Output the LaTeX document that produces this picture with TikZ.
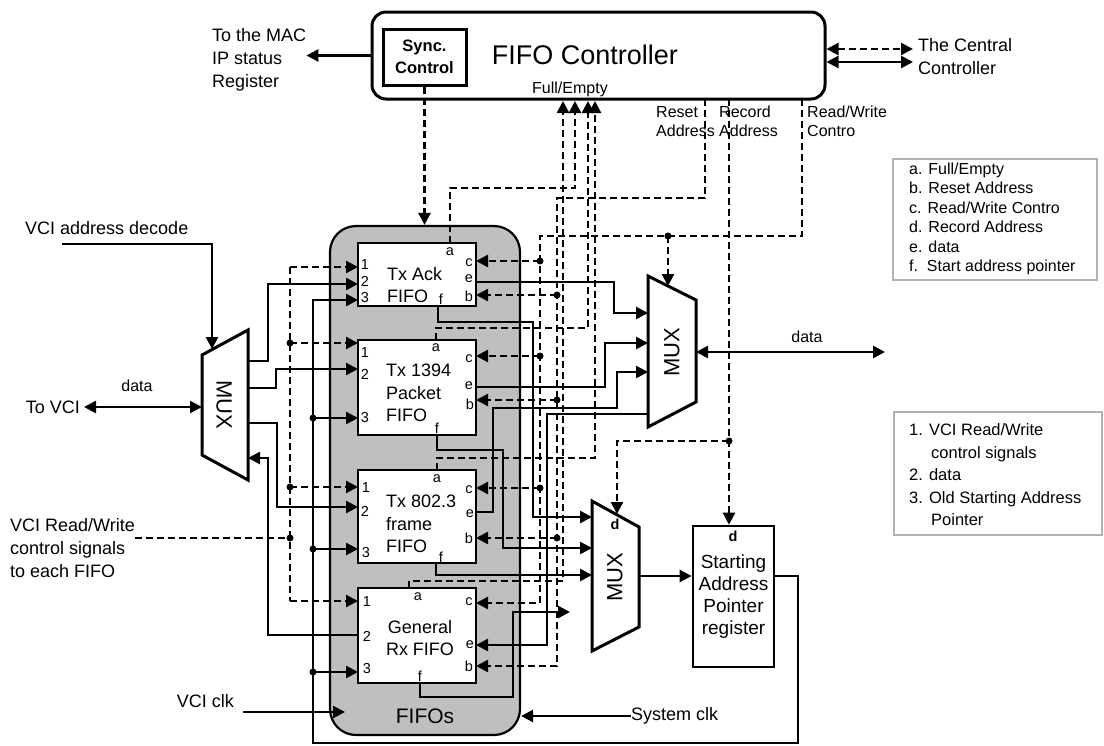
\documentclass[tikz,border=0pt]{standalone}
\usepackage{fontspec}
\setmainfont{Liberation Sans}
\usetikzlibrary{arrows.meta,positioning}
\newcommand{\fsz}[2]{\fontsize{#1}{#2}\selectfont}

\begin{document}
\begin{tikzpicture}[x=1pt, y=-1pt,
  ctrlbox/.style={draw, line width=3pt, rounded corners=14pt, minimum width=453pt, minimum height=87pt},
  syncbox/.style={draw, line width=3pt, minimum width=83pt, minimum height=56pt, align=center, inner sep=1pt, font=\fsz{16.5}{22}\bfseries},
  fifoarea/.style={draw, line width=2.2pt, fill=black!25, rounded corners=26pt, minimum width=190pt, minimum height=509pt},
  fifobox/.style={draw, fill=white, line width=2.4pt, minimum width=118pt},
  regbox/.style={draw, line width=2.6pt, align=center, minimum width=81pt, minimum height=141pt, font=\fsz{19}{22}},
  keybox/.style={draw=black!30, line width=1.8pt},
  title/.style={inner sep=0pt, font=\fsz{27}{27}},
  txt/.style={inner sep=0pt, align=left, font=\fsz{18}{23}},
  sigtxt/.style={inner sep=0pt, align=left, font=\fsz{16}{19}},
  fifotxt/.style={inner sep=0pt, align=left, font=\fsz{18}{22.5}},
  port/.style={inner sep=0pt, font=\fsz{14.5}{14.5}},
  muxtxt/.style={inner sep=0pt, font=\fsz{22}{22}},
  muxline/.style={line width=3pt, line join=miter},
  wire/.style={line width=2.6pt},
  sig/.style={line width=2.5pt, dash pattern=on 7pt off 4pt},
  arr/.style={-{Triangle[length=12pt,width=12pt]}},
  arrs/.style={{Triangle[length=12pt,width=12pt]}-{Triangle[length=12pt,width=12pt]}},
  junction/.style={circle, fill, inner sep=0pt, minimum size=7pt}
]
\useasboundingbox (0,0) rectangle (1104,745);

% FIFO controller
\node[ctrlbox] (ctrl) at (598.5,55.5) {};
\node[syncbox] (sync) at (424.5,57) {Sync.\\Control};
\node[title] (ctitle) at (585,55) {FIFO Controller};
\node[inner sep=0pt, font=\fsz{16}{16}] (felbl) at (570,89) {Full/Empty};
\node[txt, anchor=west] (mac) at (212,60) {To the MAC\\IP status\\Register};
\node[txt, anchor=west] (central) at (918,56.5) {The Central\\Controller};
\node[sigtxt, anchor=west] (rstlbl) at (656,121.5) {Reset\\Address};
\node[sigtxt, anchor=west] (reclbl) at (719,121.5) {Record\\Address};
\node[sigtxt, anchor=west] (rwlbl) at (807,121.5) {Read/Write\\Contro};

% FIFOs
\node[fifoarea] (fifos) at (425,480.5) {};
\node[inner sep=0pt, font=\fsz{21}{21}] (fifolbl) at (425,716) {FIFOs};
\node[fifobox, minimum height=63pt] (ack) at (417,274.5) {};
\node[fifobox, minimum height=95pt] (p1394) at (417,387.5) {};
\node[fifobox, minimum height=93pt] (p8023) at (417,516.5) {};
\node[fifobox, minimum height=95pt] (genrx) at (417,635.5) {};
\node[fifotxt, anchor=west] (acktxt) at (387,285) {Tx Ack\\FIFO};
\node[fifotxt, anchor=west] (p1394txt) at (386,393) {Tx 1394\\Packet\\FIFO};
\node[fifotxt, anchor=west] (p8023txt) at (386,524) {Tx 802.3\\frame\\FIFO};
\node[fifotxt, align=center] (genrxtxt) at (420,638) {General\\Rx FIFO};

% port letters
\node[port] (ack1) at (365,265) {1};
\node[port] (ack2) at (365,281) {2};
\node[port] (ack3) at (365,298) {3};
\node[port] (acka) at (450,252) {a};
\node[port] (ackc) at (469,263) {c};
\node[port] (acke) at (469,279) {e};
\node[port] (ackb) at (469,296) {b};
\node[port] (ackf) at (441,299) {f};
\node[port] (p13941) at (365,353) {1};
\node[port] (p13942) at (365,374) {2};
\node[port] (p13943) at (365,418) {3};
\node[port] (p1394a) at (436,348) {a};
\node[port] (p1394c) at (469,359) {c};
\node[port] (p1394e) at (469,386) {e};
\node[port] (p1394b) at (470,404) {b};
\node[port] (p1394f) at (437,428) {f};
\node[port] (p80231) at (366,488) {1};
\node[port] (p80232) at (365,511) {2};
\node[port] (p80233) at (366,553) {3};
\node[port] (p8023a) at (437,479) {a};
\node[port] (p8023c) at (469,490) {c};
\node[port] (p8023e) at (470,514) {e};
\node[port] (p8023b) at (469,538) {b};
\node[port] (p8023f) at (441,557) {f};
\node[port] (genrx1) at (367,602) {1};
\node[port] (genrx2) at (367,636) {2};
\node[port] (genrx3) at (367,668) {3};
\node[port] (genrxa) at (418,597) {a};
\node[port] (genrxc) at (469,602) {c};
\node[port] (genrxe) at (470,645) {e};
\node[port] (genrxb) at (469,666) {b};
\node[port] (genrxf) at (420,676) {f};

% multiplexers and register
\draw[muxline] (202,355) -- (248,330) -- (248,480) -- (202,455) -- cycle;
\node[muxtxt, rotate=-90] (vcimux) at (224,405) {MUX};
\draw[muxline] (648,276) -- (696,300) -- (696,402) -- (648,427) -- cycle;
\node[muxtxt, rotate=90] (datamux) at (672,352) {MUX};
\draw[muxline] (592,501) -- (639,527) -- (639,627) -- (592,651) -- cycle;
\node[muxtxt, rotate=90] (addrmux) at (615,577) {MUX};
\node[port, font=\fsz{14.5}{14.5}\bfseries] (addrmuxd) at (615,524) {d};
\node[regbox] (sap) at (733.5,596.5) {Starting\\Address\\Pointer\\register};
\node[port, font=\fsz{14.5}{14.5}\bfseries] (sapd) at (733,536) {d};

% outside labels
\node[txt, anchor=west] (adec) at (25,228) {VCI address decode};
\node[txt, anchor=east] (tovci) at (80,407) {To VCI};
\node[inner sep=0pt, font=\fsz{16}{16}] (vcidata) at (137,386) {data};
\node[txt, anchor=west] (vcirw) at (10,548) {VCI Read/Write\\control signals\\to each FIFO};
\node[txt, anchor=east] (vciclk) at (234,701) {VCI clk};
\node[txt, anchor=west] (sysclk) at (631,716) {System clk};
\node[inner sep=0pt, font=\fsz{16}{16}] (busdata) at (807,337) {data};

% keys
\node[keybox, minimum width=204pt, minimum height=121pt] (keysig) at (995,219.5) {};
\node[inner sep=0pt, align=left, anchor=west, font=\fsz{16}{19.5}] (keysigtxt) at (909,219) {a. Full/Empty\\b. Reset Address\\c. Read/Write Contro\\d. Record Address\\e. data\\f.\ \ Start address pointer};
\node[keybox, minimum width=208pt, minimum height=123pt] (keyin) at (998,473.5) {};
\node[inner sep=0pt, align=left, anchor=west, font=\fsz{16.5}{22.5}] (keyintxt) at (909,475) {1. VCI Read/Write\\\hspace*{22pt}control signals\\2. data\\3. Old Starting Address\\\hspace*{22pt}Pointer};

% pins
\coordinate (fe1) at (563,101);
\coordinate (fe2) at (575,101);
\coordinate (fe3) at (588,101);
\coordinate (fe4) at (595,101);
\coordinate (rst) at (705,99);
\coordinate (rec) at (729,99);
\coordinate (rw) at (802,99);
\coordinate (rstc) at (557,198);
\coordinate (rwc) at (540,236);
\coordinate (ackI1) at (358,267);
\coordinate (ackI2) at (358,284);
\coordinate (ackI3) at (358,300);
\coordinate (ackA) at (450,243);
\coordinate (ackC) at (476,261);
\coordinate (ackE) at (476,282);
\coordinate (ackB) at (476,295);
\coordinate (ackF) at (438,306);
\coordinate (pI1) at (358,343);
\coordinate (pI2) at (358,369);
\coordinate (pI3) at (358,418);
\coordinate (pA) at (436,340);
\coordinate (pC) at (476,356);
\coordinate (pE) at (476,387);
\coordinate (pB) at (476,400);
\coordinate (pF) at (437,435);
\coordinate (eI1) at (358,487);
\coordinate (eI2) at (358,507);
\coordinate (eI3) at (358,549);
\coordinate (eA) at (437,470);
\coordinate (eC) at (476,488);
\coordinate (eE) at (476,512);
\coordinate (eB) at (476,538);
\coordinate (eF) at (436,563);
\coordinate (gI1) at (358,601);
\coordinate (gI2) at (358,635);
\coordinate (gI3) at (358,672);
\coordinate (gA) at (409,588);
\coordinate (gC) at (476,603);
\coordinate (gE) at (476,645);
\coordinate (gB) at (476,666);
\coordinate (gF) at (420,683);
\coordinate (gFend) at (570,612);
\coordinate (m1top) at (212,349);
\coordinate (m1d) at (202,407);
\coordinate (m1o1) at (248,361);
\coordinate (m1o2) at (248,388);
\coordinate (m1o3) at (248,423);
\coordinate (m1i) at (248,458);
\coordinate (m2i1) at (648,313);
\coordinate (m2i2) at (648,343);
\coordinate (m2i3) at (648,372);
\coordinate (m2o) at (648,414);
\coordinate (m2r) at (696,352);
\coordinate (m2s) at (668,286);
\coordinate (dataend) at (885,352);
\coordinate (m3i1) at (592,517);
\coordinate (m3i2) at (592,548);
\coordinate (m3i3) at (592,575);
\coordinate (m3r) at (639,576);
\coordinate (m3s) at (617,514);
\coordinate (loopR) at (798,743);
\coordinate (loopL) at (313,743);
\coordinate (rwtop) at (290,267);
\coordinate (rwbot) at (290,601);
\coordinate (adecS) at (62,244);
\coordinate (clkfrom) at (243,712);
\coordinate (clkin) at (345,712);
\coordinate (cen1) at (913,49);
\coordinate (cen2) at (913,62);

% junctions
\node[junction] (jrw) at (668,236) {};
\node[junction] (jrec) at (729,441) {};
\node[junction] (jc1) at (540,261) {};
\node[junction] (jc2) at (540,356) {};
\node[junction] (jc3) at (540,488) {};
\node[junction] (jb1) at (557,295) {};
\node[junction] (jb2) at (557,400) {};
\node[junction] (jb3) at (557,538) {};
\node[junction] (jr1) at (290,343) {};
\node[junction] (jr2) at (290,487) {};
\node[junction] (jr3) at (290,538) {};
\node[junction] (js1) at (313,418) {};
\node[junction] (js2) at (313,549) {};
\node[junction] (js3) at (313,672) {};

% controller links
\draw[wire, arr] (ctrl.west) -- (ctrl.west -| mac.east);
\draw[sig, arrs] (ctrl.east |- cen1) -- (cen1);
\draw[wire, arrs] (ctrl.east |- cen2) -- (cen2);
\draw[sig, arr] (sync.south) -- (sync.south |- fifos.north);

% full/empty
\draw[sig, arr] (gA) -- ++(0,-7) -| (fe1);
\draw[sig, arr] (ackA) -- ++(0,-55) -| (fe2);
\draw[sig, arr] (pA) -- ++(0,-12) -| (fe3);
\draw[sig, arr] (eA) -- ++(0,-12) -| (fe4);

% reset address
\draw[sig, arr] (rst) |- (rstc) |- (gB);
\draw[sig, arr] (jb1.center) -- (ackB);
\draw[sig, arr] (jb2.center) -- (pB);
\draw[sig, arr] (jb3.center) -- (eB);

% read/write control
\draw[sig, arr] (rw) |- (rwc) |- (gC);
\draw[sig, arr] (jc1.center) -- (ackC);
\draw[sig, arr] (jc2.center) -- (pC);
\draw[sig, arr] (jc3.center) -- (eC);
\draw[sig, arr] (jrw.center) -- (m2s);

% record address
\draw[sig, arr] (rec) -- (rec |- sap.north);
\draw[sig, arr] (jrec.center) -| (m3s);

% data to and from the FIFOs
\draw[wire, arr] (ackE) -- ++(138,0) |- (m2i1);
\draw[wire, arr] (pE) -- ++(129,0) |- (m2i2);
\draw[wire, arr] (eE) -- ++(17,0) -- ++(0,-104) -- ++(124,0) |- (m2i3);
\draw[wire, arr] (m2o) -- ++(-101,0) |- (gE);
\draw[wire, arrs] (m2r) -- (dataend);

% start address pointers
\draw[wire, arr] (ackF) -- ++(0,16) -- ++(95,0) |- (m3i1);
\draw[wire, arr] (pF) -- ++(0,15) -- ++(66,0) |- (m3i2);
\draw[wire, arr] (eF) |- (m3i3);
\draw[wire, arr] (gF) -- ++(0,14) -- ++(93,0) |- (gFend);
\draw[wire, arr] (m3r) -- (sap.west |- m3r);
\draw[wire, arr] (sap.east |- m3r) -| (loopR) -- (loopL) |- (ackI3);
\draw[wire, arr] (js1.center) -- (pI3);
\draw[wire, arr] (js2.center) -- (eI3);
\draw[wire, arr] (js3.center) -- (gI3);

% VCI side
\draw[wire, arr] (adecS) -| (m1top);
\draw[wire, arrs] ([xshift=4pt]tovci.east) -- (m1d);
\draw[wire, arr] (m1o1) -- ++(20,0) |- (ackI2);
\draw[wire, arr] (m1o2) -- ++(28,0) |- (pI2);
\draw[wire, arr] (m1o3) -- ++(29,0) |- (eI2);
\draw[wire, arr] (gI2) -- ++(-90,0) |- (m1i);
\draw[sig] (rwtop) -- (rwbot);
\draw[sig, arr] (rwtop) -- (ackI1);
\draw[sig, arr] (rwbot) -- (gI1);
\draw[sig, arr] (jr1.center) -- (pI1);
\draw[sig, arr] (jr2.center) -- (eI1);
\draw[sig] (vcirw.east |- jr3) -- (jr3.center);

% clocks
\draw[wire, arr] (clkfrom) -- (clkin);
\draw[wire, arr] (sysclk.west) -- (sysclk.west -| fifos.east);
\end{tikzpicture}
\end{document}
